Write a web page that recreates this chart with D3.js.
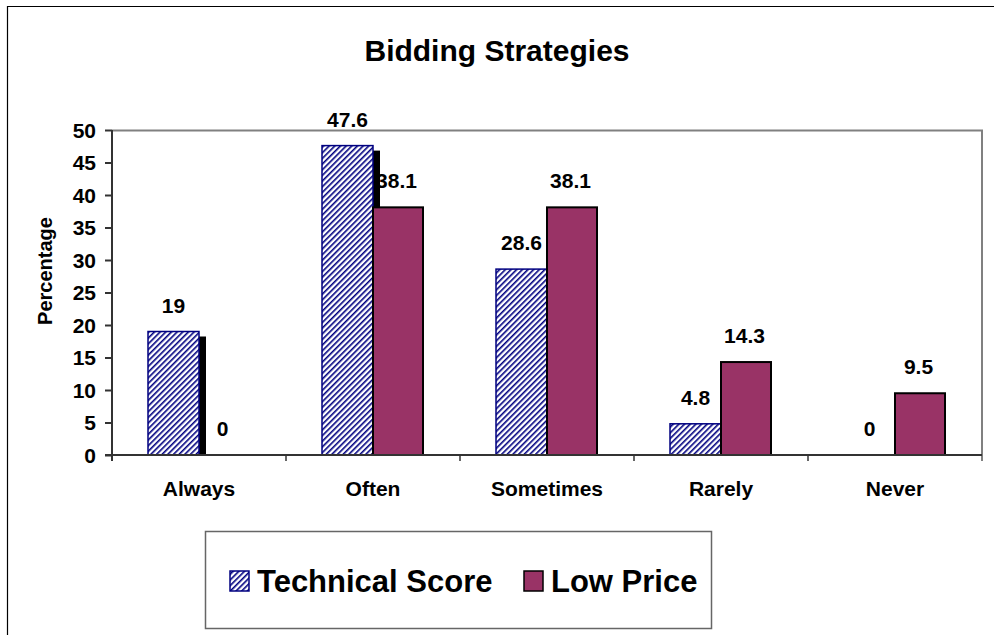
<!DOCTYPE html>
<html lang="en">
  <head>
    <meta charset="utf-8">
    <title>Bidding Strategies</title>
    <script src="https://d3js.org/d3.v7.min.js"></script>
    <style>
      html, body { margin: 0; padding: 0; background: #fff; overflow: hidden; }
      svg { display: block; }
      text { font-family: Arial, "Liberation Sans", sans-serif; font-weight: bold; fill: #000; }
    </style>
  </head>

  <body>
  <script>

  // chart data
  var categories = ["Always", "Often", "Sometimes", "Rarely", "Never"];
  var technicalScore = [19, 47.6, 28.6, 4.8, 0];
  var lowPrice = [0, 38.1, 38.1, 14.3, 9.5];
  var seriesNames = ["Technical Score", "Low Price"];
  var yTicks = [0, 5, 10, 15, 20, 25, 30, 35, 40, 45, 50];

  var w = 994;
  var h = 635;
  var margin = {top: 130, right: 12, bottom: 180, left: 112};
  var innerWidth = w - margin.left - margin.right;
  var innerHeight = h - margin.top - margin.bottom;

  var svg = d3.select("body")
    .append("svg")
    .attr("width", w)
    .attr("height", h);

  // hatch pattern for technical score
  var defs = svg.append("defs");
  defs.append("pattern")
    .attr("id", "hatch")
    .attr("patternUnits", "userSpaceOnUse")
    .attr("width", 4)
    .attr("height", 4)
    .attr("patternTransform", "rotate(45)")
    .append("rect")
    .attr("x", 0).attr("y", 0)
    .attr("width", 1.6).attr("height", 4)
    .attr("fill", "#000080");

  // outer chart border (runs off the right and bottom like the original)
  svg.append("path")
    .attr("d", `M7.5,${h}V6.5H${w}`)
    .attr("fill", "none")
    .attr("stroke", "#000")
    .attr("stroke-width", 1.2);

  svg.append("text")
    .attr("x", 497)
    .attr("y", 61)
    .attr("text-anchor", "middle")
    .attr("font-size", 30)
    .text("Bidding Strategies");

  var g = svg.append("g")
    .attr("transform", `translate(${margin.left}, ${margin.top})`);

  var xScale = d3.scaleBand()
    .domain(categories)
    .range([0, innerWidth]);

  var yScale = d3.scaleLinear()
    .domain([0, 50])
    .range([innerHeight, 0]);

  var barW = 51;
  var rows = categories.map(function(c, i) {
    return {cat: c, tech: technicalScore[i], low: lowPrice[i]};
  });

  // plot area frame (top and right, gray)
  g.append("path")
    .attr("d", `M0,0.5H${innerWidth}V${innerHeight + 6}`)
    .attr("fill", "none")
    .attr("stroke", "#808080")
    .attr("stroke-width", 2);

  // black shadow beside technical bars
  g.selectAll(".shadow").data(rows).enter().append("rect")
    .attr("class", "shadow")
    .attr("x", d => xScale(d.cat) + xScale.bandwidth() / 2)
    .attr("y", d => yScale(d.tech) + 5)
    .attr("width", d => d.tech > 0 ? 7 : 0)
    .attr("height", d => innerHeight - yScale(d.tech) - 5 > 0 ? innerHeight - yScale(d.tech) - 5 : 0)
    .attr("fill", "#000");

  g.selectAll(".tech").data(rows).enter().append("rect")
    .attr("class", "tech")
    .attr("x", d => xScale(d.cat) + xScale.bandwidth() / 2 - barW)
    .attr("y", d => yScale(d.tech))
    .attr("width", barW)
    .attr("height", d => innerHeight - yScale(d.tech))
    .attr("fill", "url(#hatch)")
    .attr("stroke", "#000080")
    .attr("stroke-width", d => d.tech > 0 ? 1.5 : 0);

  g.selectAll(".low").data(rows).enter().append("rect")
    .attr("class", "low")
    .attr("x", d => xScale(d.cat) + xScale.bandwidth() / 2)
    .attr("y", d => yScale(d.low))
    .attr("width", barW - 1)
    .attr("height", d => innerHeight - yScale(d.low))
    .attr("fill", "#993366")
    .attr("stroke", "#000")
    .attr("stroke-width", d => d.low > 0 ? 2 : 0);

  // value labels
  g.selectAll(".techLabel").data(rows).enter().append("text")
    .attr("x", d => xScale(d.cat) + xScale.bandwidth() / 2 - barW / 2)
    .attr("y", d => yScale(d.tech) - 19)
    .attr("text-anchor", "middle")
    .attr("font-size", 21)
    .text(d => d.tech);

  g.selectAll(".lowLabel").data(rows).enter().append("text")
    .attr("x", d => xScale(d.cat) + xScale.bandwidth() / 2 + barW / 2 - 2)
    .attr("y", d => yScale(d.low) - 19)
    .attr("text-anchor", "middle")
    .attr("font-size", 21)
    .text(d => d.low);

  // axes
  var yAxis = g.append("g")
    .call(d3.axisLeft(yScale).tickValues(yTicks).tickSize(7).tickPadding(9))
    .attr("font-size", 21)
    .attr("font-family", null);
  yAxis.selectAll("text").attr("dy", "0.35em");
  yAxis.selectAll("line, path").attr("stroke", "#333").attr("stroke-width", 2);
  yAxis.select(".domain").attr("d", `M0,0V${innerHeight + 6}`);

  var xAxis = g.append("g")
    .attr("transform", `translate(0, ${innerHeight})`)
    .call(d3.axisBottom(xScale).tickSize(0))
    .attr("font-size", 21)
    .attr("font-family", null);
  xAxis.selectAll("text").attr("y", 41).attr("dy", 0);
  xAxis.select(".domain").attr("d", `M-7,0H${innerWidth}`).attr("stroke", "#333").attr("stroke-width", 2);
  xAxis.selectAll(".sep").data(categories.slice(1)).enter().append("line")
    .attr("class", "sep")
    .attr("x1", d => xScale(d)).attr("x2", d => xScale(d))
    .attr("y1", 0).attr("y2", 6)
    .attr("stroke", "#333").attr("stroke-width", 1.5);

  svg.append("text")
    .attr("transform", "translate(52, 271) rotate(-90)")
    .attr("text-anchor", "middle")
    .attr("font-size", 20)
    .text("Percentage");

  // legend
  var legend = svg.append("g");
  legend.append("rect")
    .attr("x", 205.5).attr("y", 531.5)
    .attr("width", 506).attr("height", 97)
    .attr("fill", "#fff")
    .attr("stroke", "#666")
    .attr("stroke-width", 1.5);

  var legendX = [230, 524];
  var legendFill = ["url(#hatch)", "#993366"];
  var legendStroke = ["#000080", "#000"];
  seriesNames.forEach(function(name, i) {
    legend.append("rect")
      .attr("x", legendX[i]).attr("y", 571)
      .attr("width", 19).attr("height", 20)
      .attr("fill", legendFill[i])
      .attr("stroke", legendStroke[i])
      .attr("stroke-width", 1.5);
    legend.append("text")
      .attr("x", legendX[i] + 27)
      .attr("y", 592)
      .attr("font-size", 31)
      .text(name);
  });

  </script>
  </body>
</html>
